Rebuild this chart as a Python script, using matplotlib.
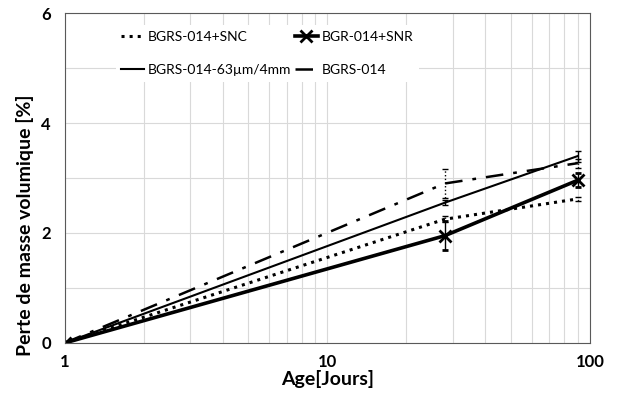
import matplotlib
matplotlib.use("Agg")
import matplotlib.pyplot as plt
from matplotlib.lines import Line2D
from matplotlib.ticker import FixedLocator, NullFormatter

plt.rcParams["font.family"] = ["Lato", "DejaVu Sans"]

# data
ages = [1, 28, 90]

snc = [0, 2.25, 2.62]
snc_err = [0, 0.05, 0.04]

snr = [0, 1.95, 2.96]
snr_err = [0, 0.26, 0.13]

fine = [0, 2.55, 3.40]
fine_err = [0, 0.05, 0.10]

ref = [0, 2.90, 3.27]
ref_err = [0, 0.26, 0.08]

labels = ["BGRS-014+SNC", "BGR-014+SNR", "BGRS-014-63µm/4mm", "BGRS-014"]

fig = plt.figure(figsize=(6.17, 3.96), dpi=100)
ax = fig.add_axes([0.105, 0.134, 0.851, 0.833])

dashdot = (0, (7, 4, 1.5, 4))

styles = [
    dict(lw=2.2, ls=":"),
    dict(lw=2.6, ls="-", marker="x", ms=8, mew=2),
    dict(lw=1.5, ls="-"),
    dict(lw=1.8, ls=dashdot),
]
series = [(snc, snc_err), (snr, snr_err), (fine, fine_err), (ref, ref_err)]

handles = []
for (vals, err), st, lab in zip(series, styles, labels):
    h = ax.errorbar(ages, vals, yerr=err, color="black", capsize=2,
                    elinewidth=1, **st)
    if st["ls"] != "-":
        for bar in h[2]:
            bar.set_linestyle(":")
    handles.append(Line2D([], [], color="black", **st))

ax.set_xscale("log")
ax.set_xlim(1, 100)
ax.set_ylim(0, 6)
ax.set_xticks([1, 10, 100])
ax.set_xticklabels(["1", "10", "100"])
ax.xaxis.set_minor_formatter(NullFormatter())
ax.set_yticks([0, 2, 4, 6])
ax.yaxis.set_minor_locator(FixedLocator([1, 3, 5]))

ax.grid(True, which="both", color="#d9d9d9", lw=0.8)
ax.set_axisbelow(True)
ax.tick_params(which="both", length=0)
ax.tick_params(axis="x", pad=8)
ax.tick_params(axis="y", pad=10)
for t in ax.get_xticklabels() + ax.get_yticklabels():
    t.set_fontweight("bold")
    t.set_fontsize(12)
for s in ax.spines.values():
    s.set_color("#595959")

ax.set_xlabel("Age[Jours]", fontsize=14, fontweight="bold", labelpad=0)
ax.set_ylabel("Perte de masse volumique [%]", fontsize=14, fontweight="bold")
ax.yaxis.set_label_coords(-0.059, 0.357)

# legend filled column-wise: SNC / 63µm on the left, SNR / BGRS-014 on the right
order = [0, 2, 1, 3]
ax.legend(handles=[handles[i] for i in order],
          labels=[labels[i] for i in order], ncol=2,
          loc="upper left", bbox_to_anchor=(0.084, 0.985), fontsize=10,
          handlelength=1.6, handletextpad=0.3, columnspacing=0.3,
          labelspacing=1.55, borderpad=0.4, frameon=True,
          fancybox=False, edgecolor="none", facecolor="white",
          framealpha=1)

fig.savefig("out.png", dpi=100)
